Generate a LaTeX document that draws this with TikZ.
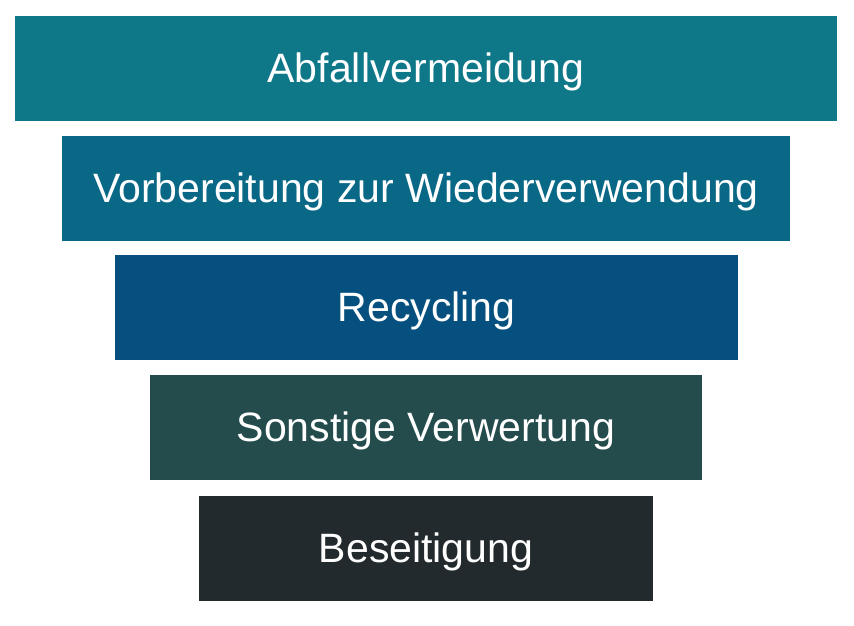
\documentclass[tikz,border=0pt]{standalone}
\usepackage{fontspec}
\setmainfont{Liberation Sans}
\usepackage{xcolor}
\usepackage{tikz}
\usetikzlibrary{positioning}
\definecolor{avoid}{RGB}{14, 120, 137}
\definecolor{reuse}{RGB}{8, 104, 134}
\definecolor{recycle}{RGB}{5, 80, 126}
\definecolor{recover}{RGB}{36, 76, 77}
\definecolor{dispose}{RGB}{35, 42, 45}
\tikzstyle{level} = [rectangle, minimum height=105pt, inner sep=0pt, text centered, text=white, font=\fontsize{41}{48}\selectfont, text height=31pt, text depth=3pt]

\begin{document}
\begin{tikzpicture}[x=1pt, y=-1pt]
    \useasboundingbox (0, 0) rectangle (854, 626);

    % Pyramid levels
    \node[level, fill=avoid, minimum width=822pt] (avoid) at (426, 68.5) {Abfallvermeidung};
    \node[level, fill=reuse, minimum width=728pt] (reuse) at (426, 188) {Vorbereitung zur Wiederverwendung};
    \node[level, fill=recycle, minimum width=623pt] (recycle) at (426.5, 307.5) {Recycling};
    \node[level, fill=recover, minimum width=552pt] (recover) at (426, 427.5) {Sonstige Verwertung};
    \node[level, fill=dispose, minimum width=454pt] (dispose) at (426, 548.5) {Beseitigung};
\end{tikzpicture}
\end{document}
